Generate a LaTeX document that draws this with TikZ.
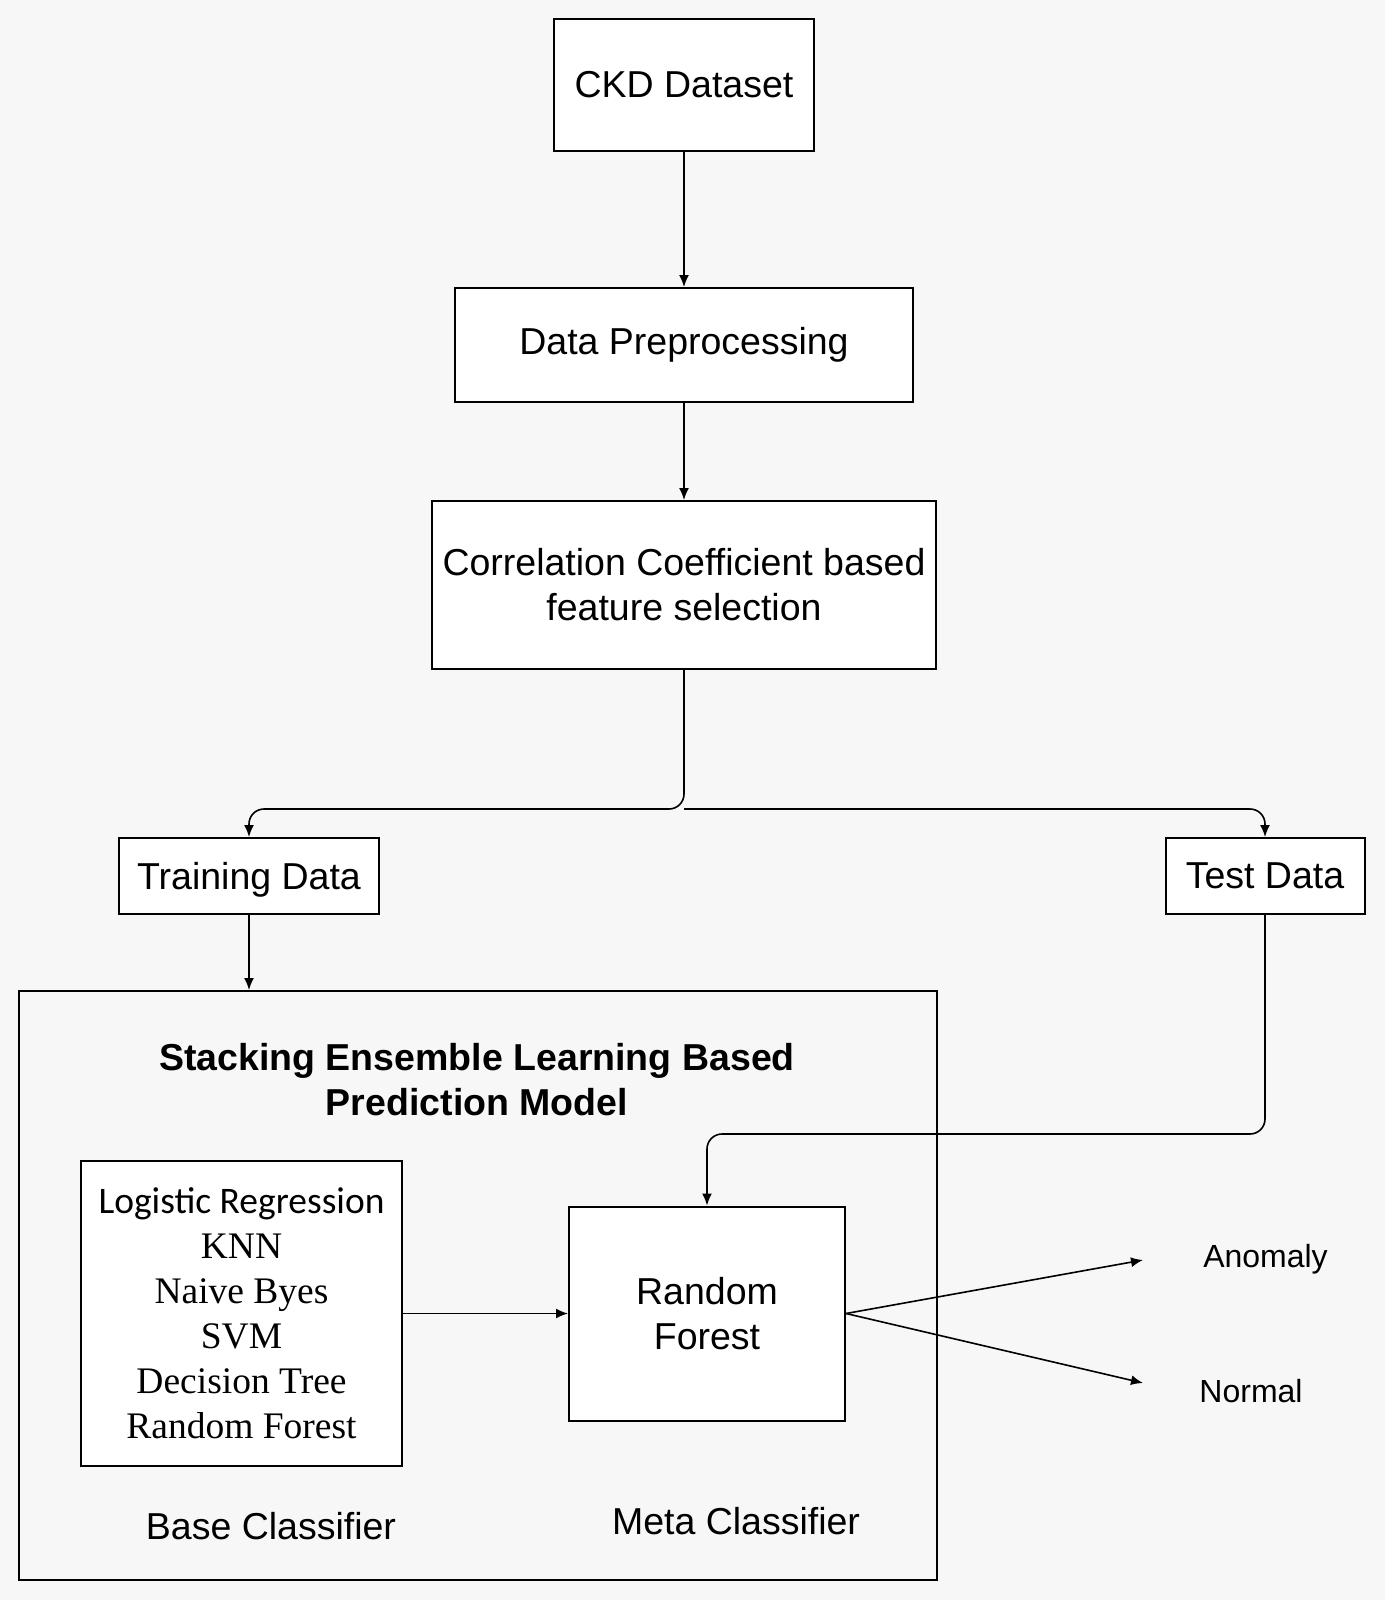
\documentclass[tikz,border=0pt]{standalone}
\usepackage{fontspec}
\setmainfont{Liberation Sans}
\newfontfamily\timesfont{Liberation Serif}
\newfontfamily\calibrifont{Carlito}
\usetikzlibrary{shapes,arrows.meta}
\definecolor{canvas}{HTML}{F7F7F7}
\newcommand{\blockfont}{\fontsize{18.75}{22.5}\selectfont}
\tikzstyle{block} = [rectangle, draw=black, line width=1pt, fill=white, text centered, font=\blockfont]
\tikzstyle{txt} = [font=\blockfont]
\tikzstyle{output} = [coordinate]

\begin{document}
\begin{tikzpicture}[auto, x=0.5pt, y=-0.5pt, >={Latex[length=6pt,width=5pt]}, line width=0.8pt]
\fill [canvas] (0,0) rectangle (1385,1600);
\useasboundingbox (0,0) rectangle (1385,1600);

\node [block, minimum width=130pt, minimum height=65.5pt] (CKD) at (684,85) {CKD Dataset};
\node [block, below of = CKD, node distance=130pt, minimum width=229pt, minimum height=57pt] (Prep) {Data Preprocessing};
\node [block, below of = Prep, node distance=120pt, minimum width=252pt, minimum height=84pt, align=center] (Corr) {Correlation Coefficient based\\feature selection};
\node [output] (split) at (684,809) {};

\node [block, minimum width=130pt, minimum height=38pt, text depth=0pt] (Train) at (249,876) {Training Data};
\node [block, right of = Train, node distance=508pt, minimum width=99.5pt, minimum height=38pt] (Test) {Test Data};

\node [draw, line width=1pt, minimum width=459pt, minimum height=294.5pt] (Stack) at (478,1285.5) {};
\node [txt, font=\blockfont\bfseries, align=center] (Title) at (477,1080) {Stacking Ensemble Learning Based\\Prediction Model};

\node [block, minimum width=160.5pt, minimum height=152.5pt, align=center, font=\timesfont\blockfont] (Base) at (241.5,1313.5) {\calibrifont Logistic Regression\\KNN\\Naive Byes\\SVM\\Decision Tree\\Random Forest};
\node [block, right of = Base, node distance=232.75pt, minimum width=138pt, minimum height=107pt, align=center] (Meta) {Random\\Forest};
\node [output] (elbow) at (707,1134) {};

\node [txt] (BaseLbl) at (271,1526) {Base Classifier};
\node [txt] (MetaLbl) at (736,1521) {Meta Classifier};

\node [output] (anom) at (1143,1260) {};
\node [output] (norm) at (1143,1383) {};
\node [txt, font=\fontsize{16}{19}\selectfont] (AnomLbl) at (1265.5,1259) {Anomaly};
\node [txt, font=\fontsize{16}{19}\selectfont] (NormLbl) at (1251,1391) {Normal};

\draw [->] (CKD) -- (Prep);
\draw [->] (Prep) -- (Corr);
\draw [->, rounded corners=7.5pt] (Corr) -- (split) -| (Train);
\draw [->, rounded corners=7.5pt] (split) -| (Test);
\draw [->] (Train) -- (Train |- Stack.north);
\draw [->, rounded corners=7.5pt] (Test) |- (elbow) -- (Meta);
\draw [->] (Base) -- (Meta);
\draw [->] (Meta.east) -- (anom);
\draw [->] (Meta.east) -- (norm);

\end{tikzpicture}
\end{document}
